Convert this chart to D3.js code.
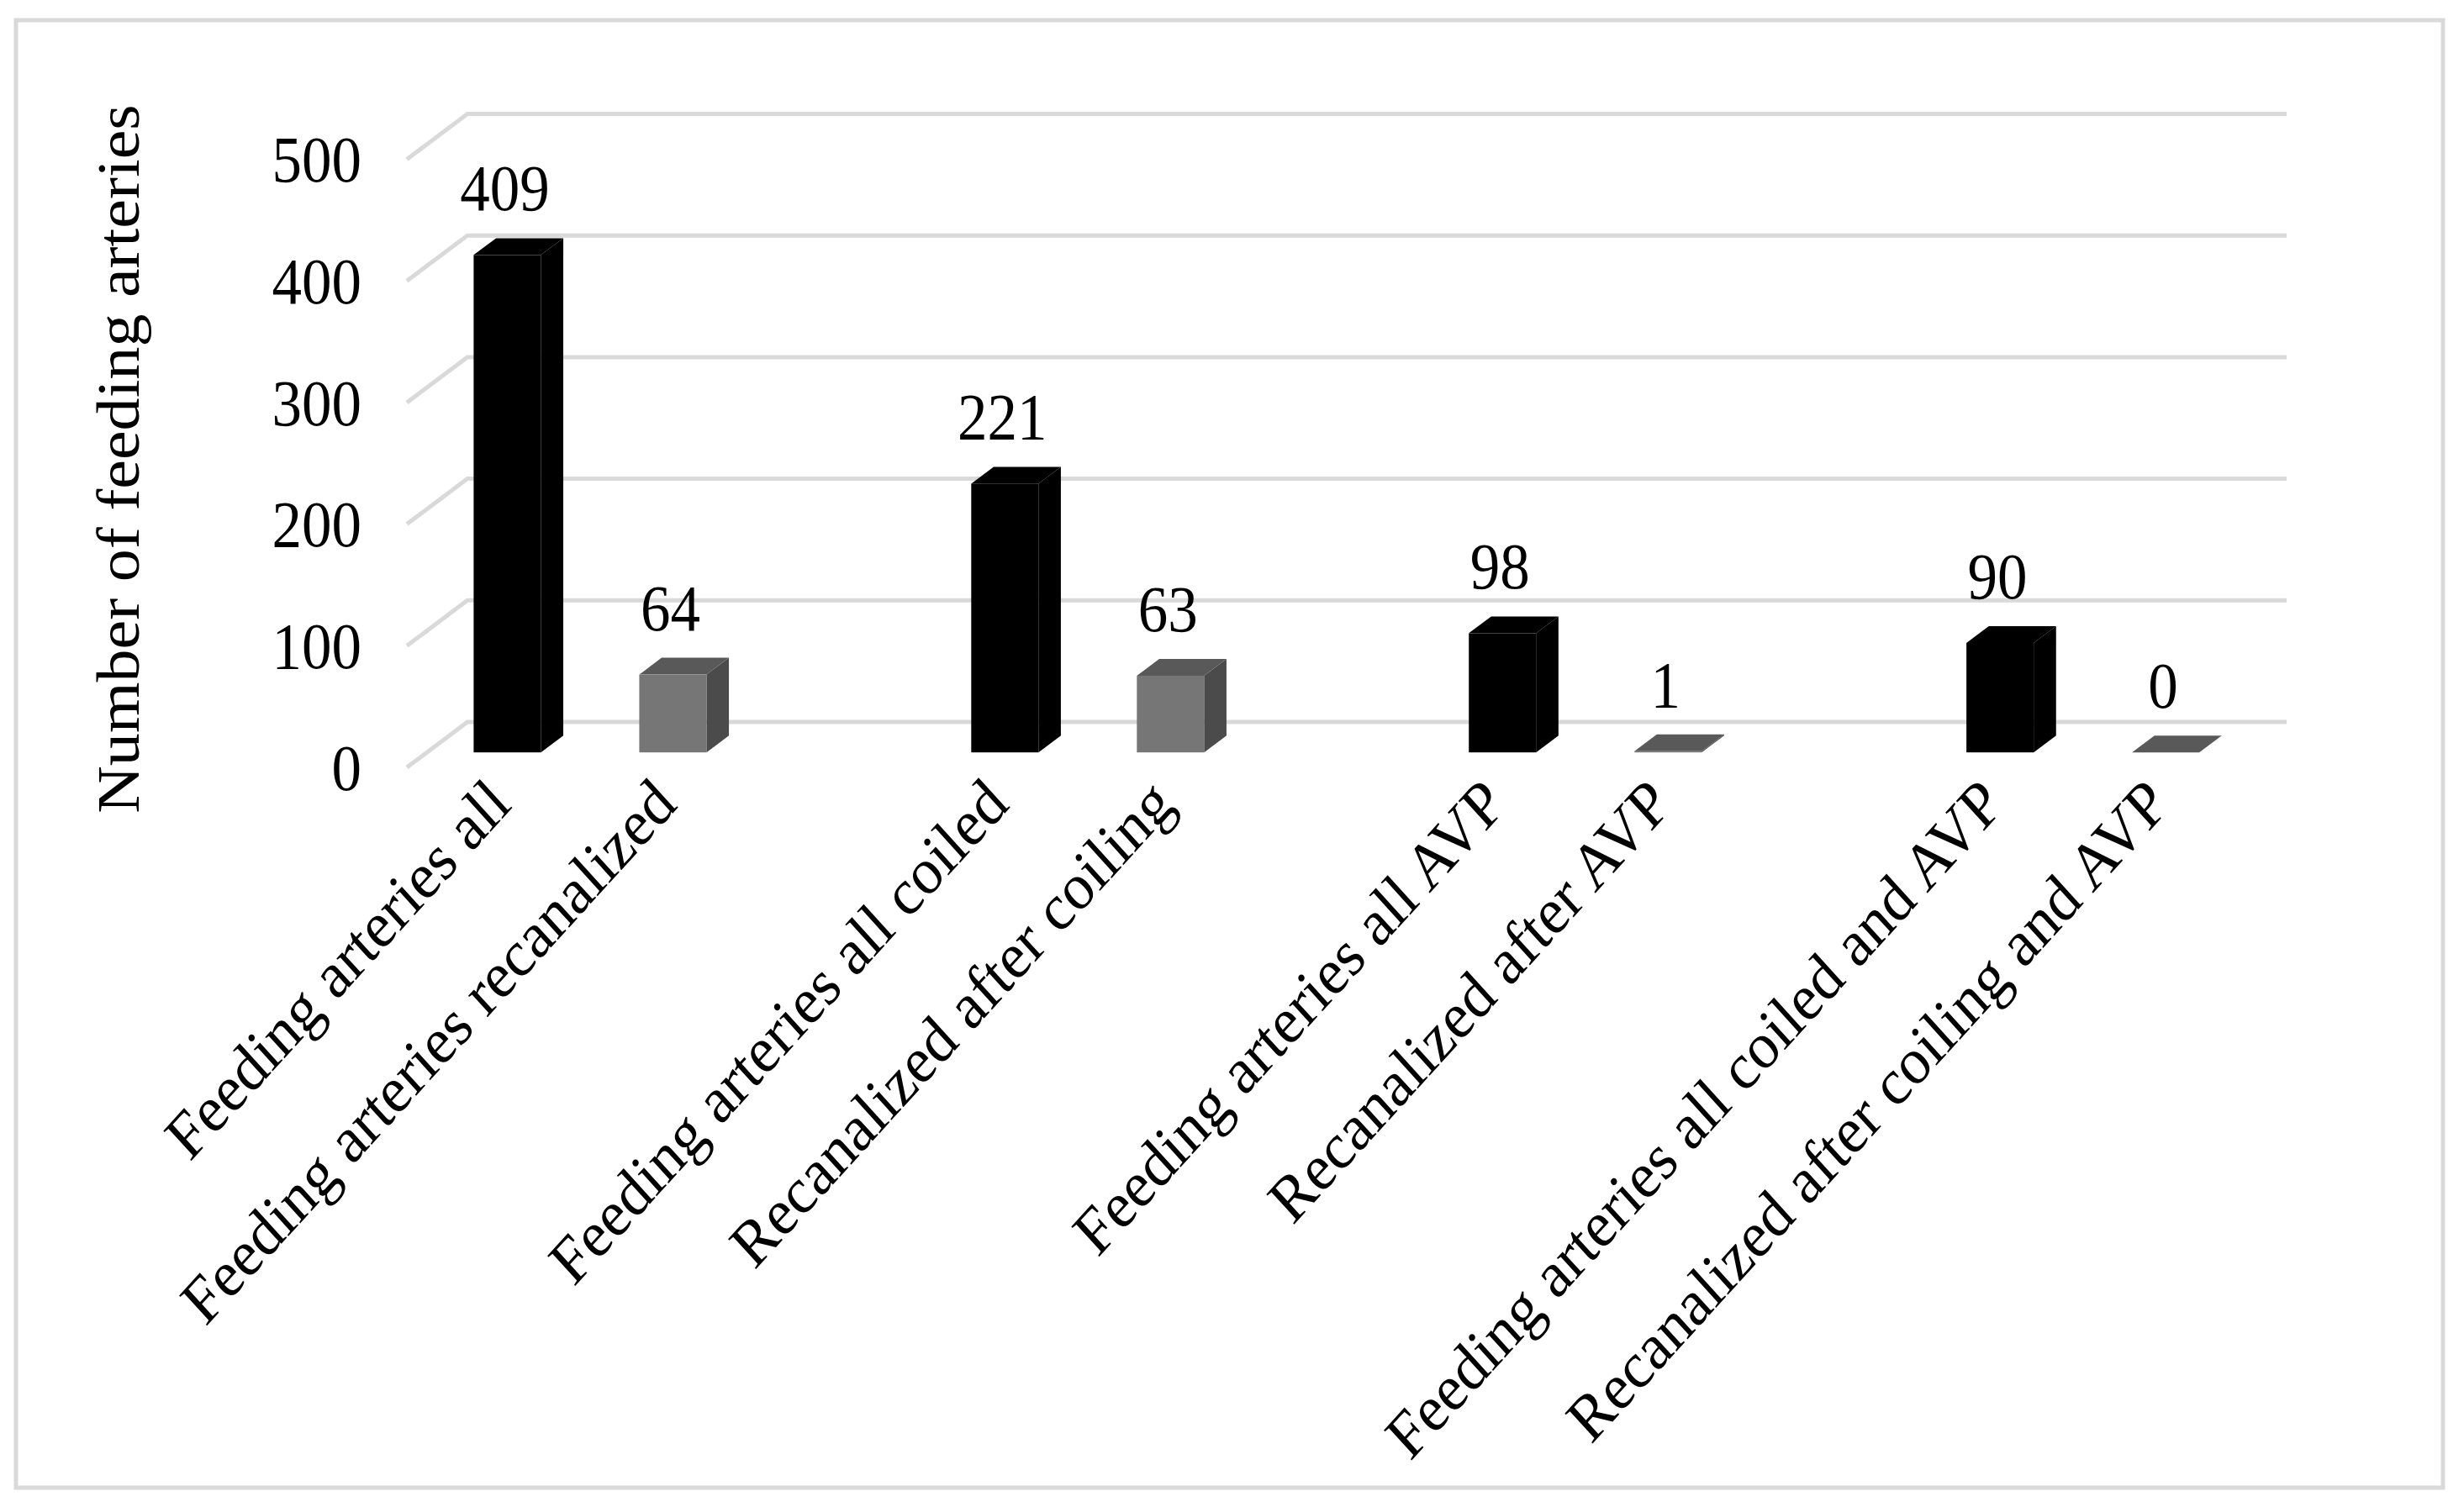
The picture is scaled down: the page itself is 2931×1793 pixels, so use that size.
<!DOCTYPE html>
<html>
<head>
<meta charset="utf-8">
<script src="https://cdn.jsdelivr.net/npm/d3@7"></script>
<style>
  html, body { margin: 0; padding: 0; background: #fff; }
  svg { display: block; }
  text { font-family: "Liberation Serif", "Times New Roman", serif; fill: #000; }
</style>
</head>
<body>
<svg id="chart" width="2931" height="1793"></svg>
<script>
// ---- data ----
const groups = ["G1", "G2", "G3", "G4"];
const series = ["all", "recanalized"];
const categoryLabels = [
  "Feeding arteries all", "Feeding arteries recanalized",
  "Feeding arteries all coiled", "Recanalized after coiling",
  "Feeding arteries all AVP", "Recanalized after AVP",
  "Feeding arteries all coiled and AVP", "Recanalized after coiling and AVP"
];
const allValues = [409, 221, 98, 90];
const recanValues = [64, 63, 1, 0];
const yTicks = [0, 100, 200, 300, 400, 500];
const yTitle = "Number of feeding arteries";

// ---- layout ----
const svg = d3.select("#chart");
const wallX0 = 556, wallX1 = 2720;
const depth = { dx: -72, dy: 54 };       // back wall -> front edge of floor
const barBack = 0.30, barFront = 0.67;   // depth fractions of bar faces
const fontSize = 71;
const sy = 1.1;                          // vertical stretch of the lettering

const y = d3.scaleLinear().domain([0, 500]).range([859, 135.5]);
const xg = d3.scalePoint().domain(groups).range([wallX0, wallX1]).padding(0.328);
const xs = d3.scaleBand().domain(series).range([-138.5, 138.5]).paddingInner(0.594);

// frame
svg.append("rect").attr("x", 19).attr("y", 24).attr("width", 2887).attr("height", 1746)
  .attr("fill", "none").attr("stroke", "#d9d9d9").attr("stroke-width", 5);

// gridlines (back wall + side diagonal)
const grid = svg.append("g");
yTicks.forEach(v => {
  const yy = y(v);
  grid.append("path")
    .attr("d", `M${wallX0 + depth.dx},${yy + depth.dy} L${wallX0},${yy} L${wallX1},${yy}`)
    .attr("fill", "none").attr("stroke", "#d9d9d9").attr("stroke-width", 5);
});

// y tick labels (at front edge)
svg.append("g").selectAll("text").data(yTicks).join("text")
  .attr("transform", d => `translate(430,${y(d) + depth.dy}) scale(1,${sy})`)
  .attr("text-anchor", "end").attr("dominant-baseline", "central")
  .attr("font-size", fontSize).text(d => d);

// y title
svg.append("text")
  .attr("transform", `translate(141,546) scale(1,${sy}) rotate(-90)`)
  .attr("text-anchor", "middle").attr("dominant-baseline", "central")
  .attr("font-size", fontSize).text(yTitle);

// bars
const bars = [];
groups.forEach((g, i) => {
  bars.push({ g, s: "all", v: allValues[i] });
  bars.push({ g, s: "recanalized", v: recanValues[i] });
});
const fx = depth.dx * barFront, fy = depth.dy * barFront;
const bdx = depth.dx * (barBack - barFront), bdy = depth.dy * (barBack - barFront); // front->back
const colors = {
  all: { front: "#000", top: "#000", side: "#000" },
  recanalized: { front: "#767676", top: "#595959", side: "#4b4b4b" }
};
const barG = svg.append("g");
bars.forEach((b, idx) => {
  const x0 = xg(b.g) + xs(b.s) + fx;
  const x1 = x0 + xs.bandwidth();
  const yb = y(0) + fy;
  const yt = y(b.v) + fy;
  const c = colors[b.s];
  barG.append("polygon")
    .attr("points", [[x1, yb], [x1, yt], [x1 + bdx, yt + bdy], [x1 + bdx, yb + bdy]].join(" "))
    .attr("fill", c.side);
  barG.append("polygon")
    .attr("points", [[x0, yt], [x1, yt], [x1 + bdx, yt + bdy], [x0 + bdx, yt + bdy]].join(" "))
    .attr("fill", c.top);
  barG.append("rect").attr("x", x0).attr("y", yt).attr("width", x1 - x0).attr("height", Math.max(0, yb - yt))
    .attr("fill", c.front);
  // value label
  barG.append("text")
    .attr("transform", `translate(${(x0 + x1) / 2 - 3},${yt + bdy - 33}) scale(1,${sy})`)
    .attr("text-anchor", "middle").attr("font-size", fontSize).text(b.v);
  // category label
  const cx = (x0 + x1) / 2 + 7, cy = y(0) + depth.dy + 47;
  barG.append("text")
    .attr("transform", `translate(${cx},${cy}) scale(1,${sy}) rotate(-45)`)
    .attr("text-anchor", "end").attr("font-size", fontSize).text(categoryLabels[idx]);
});
</script>
</body>
</html>
